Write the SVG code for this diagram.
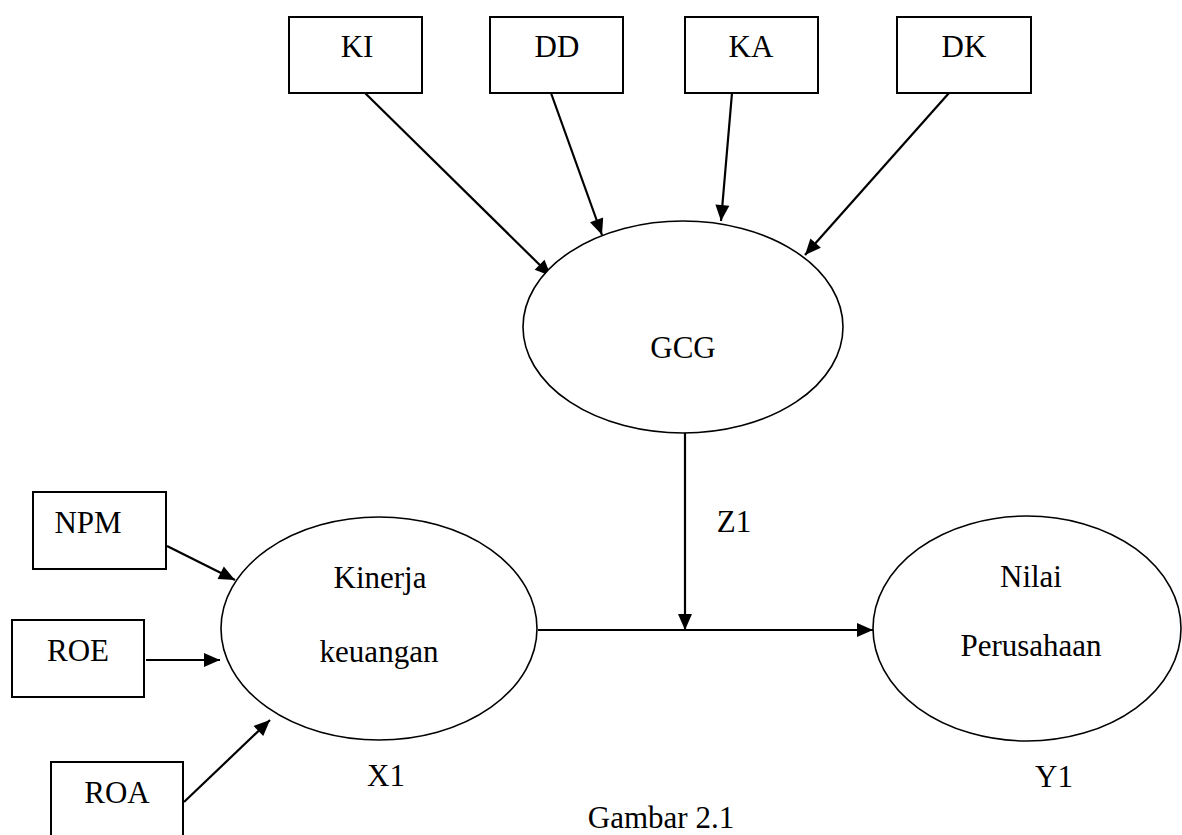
<svg xmlns="http://www.w3.org/2000/svg" width="1182" height="835" viewBox="0 0 1182 835">
<style>
.box{fill:#fff;stroke:#000;stroke-width:2}
.ell{fill:#fff;stroke:#000;stroke-width:1.6}
.lbl{font-family:"Liberation Serif","Times New Roman",serif;font-size:31px;fill:#000;text-anchor:middle}
.con{stroke:#000;stroke-width:2.2;fill:none;marker-end:url(#ah)}
.ln{stroke:#000;stroke-width:2.2;fill:none}
</style>
<defs>
<marker id="ah" markerUnits="userSpaceOnUse" markerWidth="17" markerHeight="15" refX="16" refY="7" orient="auto" overflow="visible">
<path d="M0,0 L16,7 L0,14 z" fill="#000"/>
</marker>
</defs>
<rect width="1182" height="835" fill="#fff"/>
<g id="connectors">
<line class="con" x1="365" y1="93" x2="551" y2="276"/>
<line class="con" x1="551" y1="93" x2="602" y2="235"/>
<line class="con" x1="732" y1="93" x2="721" y2="221"/>
<line class="con" x1="949" y1="93" x2="805" y2="255"/>
<line class="con" x1="167" y1="546" x2="235" y2="580"/>
<line class="con" x1="146" y1="660" x2="220" y2="660"/>
<line class="con" x1="184" y1="802" x2="270" y2="720"/>
<line class="ln" x1="538" y1="630" x2="685" y2="630"/>
<line class="con" x1="685" y1="630" x2="873" y2="630"/>
<line class="con" x1="685" y1="432" x2="685" y2="630"/>
</g>
<g id="node-KI"><rect class="box" x="289" y="17" width="133" height="76"/><text class="lbl" x="357" y="57">KI</text></g>
<g id="node-DD"><rect class="box" x="490" y="17" width="133" height="76"/><text class="lbl" x="557" y="57">DD</text></g>
<g id="node-KA"><rect class="box" x="685" y="17" width="133" height="76"/><text class="lbl" x="751" y="57">KA</text></g>
<g id="node-DK"><rect class="box" x="897" y="17" width="134" height="76"/><text class="lbl" x="964" y="57">DK</text></g>
<g id="node-GCG"><ellipse class="ell" cx="683" cy="327" rx="160" ry="106"/><text class="lbl" x="683" y="358">GCG</text></g>
<g id="node-NPM"><rect class="box" x="33" y="492" width="133" height="77"/><text class="lbl" x="88" y="533">NPM</text></g>
<g id="node-ROE"><rect class="box" x="12" y="620" width="132" height="77"/><text class="lbl" x="78" y="661">ROE</text></g>
<g id="node-ROA"><rect class="box" x="51" y="762" width="132" height="80"/><text class="lbl" x="117" y="803">ROA</text></g>
<g id="node-X1"><ellipse class="ell" cx="379" cy="628.5" rx="158" ry="111.5"/><text class="lbl" x="380" y="588">Kinerja</text><text class="lbl" x="379" y="662">keuangan</text><text class="lbl" x="386" y="786">X1</text></g>
<g id="node-Y1"><ellipse class="ell" cx="1027" cy="628.5" rx="154" ry="112.5"/><text class="lbl" x="1031" y="587">Nilai</text><text class="lbl" x="1031" y="656">Perusahaan</text><text class="lbl" x="1054" y="787">Y1</text></g>
<text class="lbl" x="734" y="532">Z1</text>
<text class="lbl" x="661" y="828">Gambar 2.1</text>
</svg>
